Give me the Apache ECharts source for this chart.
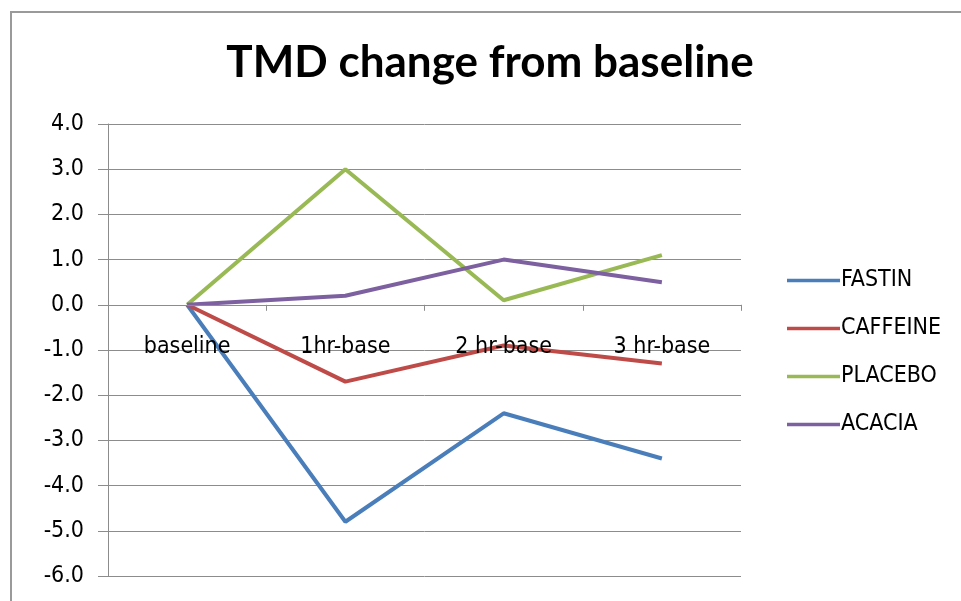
<!DOCTYPE html>
<html>
<head>
<meta charset="utf-8">
<script src="https://cdn.jsdelivr.net/npm/echarts@6/dist/echarts.min.js"></script>
<style>
  html, body { margin: 0; padding: 0; background: #fff; }
  #chart { width: 961px; height: 601px; }
</style>
</head>
<body>
<div id="chart"></div>
<script>
// TMD change from baseline, by time point
const categories = ['baseline', '1hr-base', '2 hr-base', '3 hr-base'];
const fastin   = [0, -4.8, -2.4, -3.4];
const caffeine = [0, -1.7, -0.9, -1.3];
const placebo  = [0, 3.0, 0.1, 1.1];
const acacia   = [0, 0.2, 1.0, 0.5];
const seriesNames = ['FASTIN', 'CAFFEINE', 'PLACEBO', 'ACACIA'];
const seriesColors = ['#4A7EBB', '#BE4B48', '#98B954', '#7D60A0'];
const seriesValues = [fastin, caffeine, placebo, acacia];

const textFont = '"DejaVu Sans Condensed", "Liberation Sans Narrow", sans-serif';

const chart = echarts.init(document.getElementById('chart'), null, { renderer: 'canvas' });

chart.setOption({
  backgroundColor: '#ffffff',
  animation: false,
  title: {
    text: 'TMD change from baseline',
    left: 485,
    textAlign: 'center',
    top: 36,
    textStyle: { fontFamily: 'Lato, "Open Sans", sans-serif', fontWeight: 'bold', fontSize: 44, color: '#000' }
  },
  graphic: [{
    type: 'rect',
    shape: { x: 11, y: 12, width: 1000, height: 700 },
    style: { fill: 'none', stroke: '#9a9a9a', lineWidth: 2 },
    silent: true,
    z: -1
  }],
  legend: {
    orient: 'vertical',
    left: 782,
    top: 264,
    itemGap: 25,
    itemWidth: 53,
    itemHeight: 24,
    icon: 'path://M0,10.5 L53,10.5 L53,14 L0,14 Z',
    textStyle: { fontFamily: textFont, fontSize: 23, color: '#000', padding: [0, 0, 0, -4] },
    data: seriesNames
  },
  grid: { left: 108, right: 220, top: 124, bottom: 25, containLabel: false, outerBoundsMode: 'none' },
  xAxis: {
    type: 'category',
    data: categories,
    boundaryGap: true,
    z: 4,
    axisLine: { onZero: false, lineStyle: { color: '#8c8c8c', width: 1 } },
    axisTick: { show: true, length: 6, lineStyle: { color: '#8c8c8c' } },
    axisLabel: { margin: 31, fontFamily: textFont, fontSize: 23, color: '#000' },
    splitLine: { show: false }
  },
  yAxis: {
    type: 'value',
    min: -6,
    max: 4,
    interval: 1,
    axisLine: { show: true, lineStyle: { color: '#8c8c8c', width: 1 } },
    axisTick: { show: true, length: 10, lineStyle: { color: '#8c8c8c' } },
    axisLabel: {
      margin: 24,
      fontFamily: textFont,
      fontSize: 23,
      color: '#000',
      formatter: v => v.toFixed(1)
    },
    splitLine: { show: true, lineStyle: { color: '#8c8c8c', width: 1 } }
  },
  series: seriesNames.map((name, i) => ({
    name: name,
    type: 'line',
    data: seriesValues[i],
    color: seriesColors[i],
    symbol: 'none',
    lineStyle: { width: 4, color: seriesColors[i] },
    z: 3
  }))
});

// Lift the category axis (line, ticks and labels) so it crosses the value axis at zero
const gridRect = chart.getModel().getComponent('grid', 0).coordinateSystem.getRect();
const zeroY = chart.convertToPixel({ yAxisIndex: 0 }, 0);
chart.setOption({ xAxis: { offset: -(gridRect.y + gridRect.height - zeroY) } });
</script>
</body>
</html>
